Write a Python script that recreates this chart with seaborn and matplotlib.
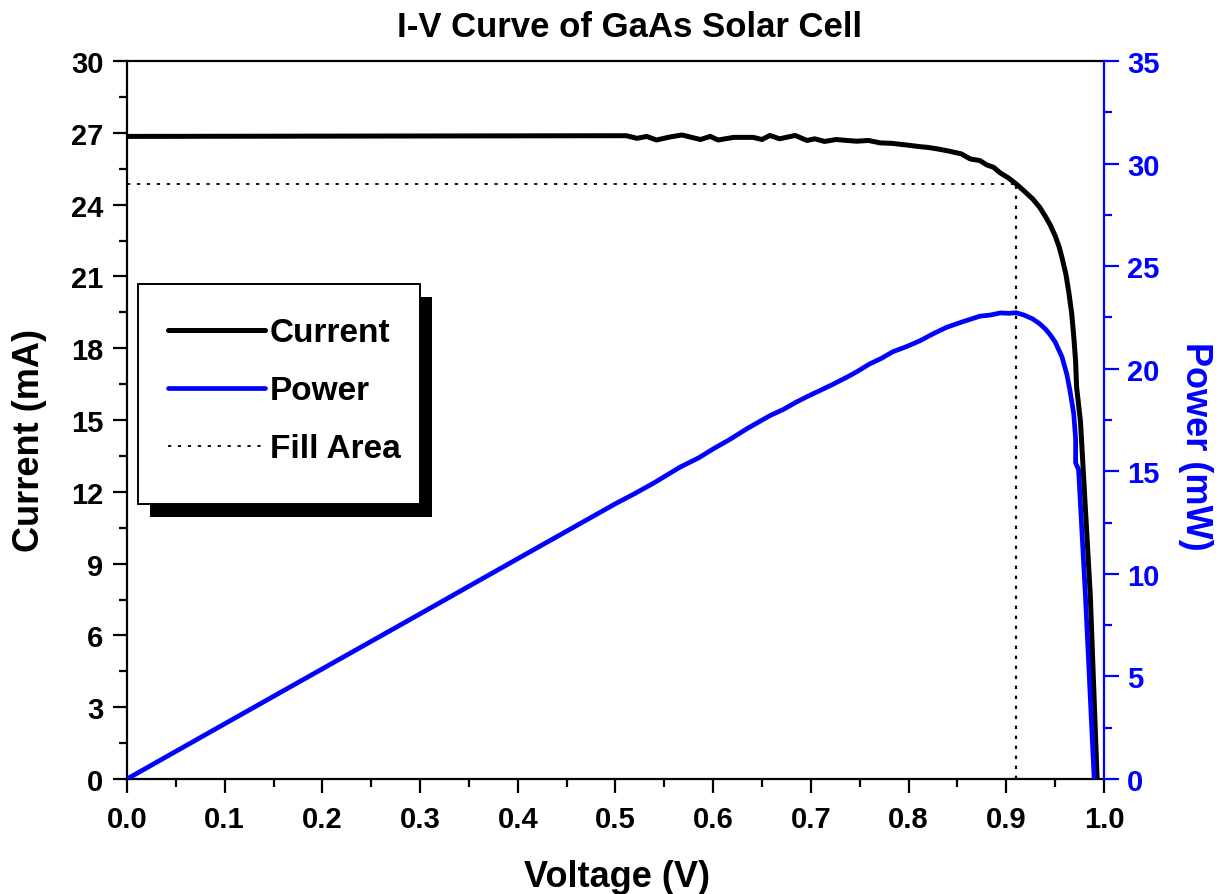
import pandas as pd
import matplotlib
matplotlib.use("Agg")
import matplotlib.pyplot as plt
from matplotlib.patches import Rectangle
from matplotlib.ticker import MultipleLocator, FormatStrFormatter
import seaborn as sns

# I-V data
voltage_i = [0.0, 0.511, 0.522, 0.532, 0.542, 0.555, 0.568, 0.587, 0.597, 0.605,
             0.621, 0.641, 0.650, 0.658, 0.668, 0.684, 0.696, 0.704, 0.714, 0.726,
             0.737, 0.747, 0.759, 0.771, 0.783, 0.798, 0.812, 0.820, 0.832, 0.842,
             0.854, 0.863, 0.873, 0.880, 0.887, 0.894, 0.902, 0.910, 0.918, 0.927,
             0.934, 0.940, 0.945, 0.950, 0.954, 0.957, 0.961, 0.964, 0.967, 0.969,
             0.971, 0.972, 0.976, 0.981, 0.986, 0.993]
current = [26.85, 26.88, 26.77, 26.85, 26.70, 26.82, 26.91, 26.72, 26.85, 26.70,
           26.81, 26.81, 26.72, 26.89, 26.75, 26.89, 26.68, 26.75, 26.64, 26.72,
           26.68, 26.65, 26.68, 26.58, 26.56, 26.49, 26.42, 26.39, 26.31, 26.23,
           26.12, 25.91, 25.84, 25.66, 25.56, 25.32, 25.12, 24.87, 24.58, 24.24,
           23.90, 23.51, 23.15, 22.70, 22.25, 21.79, 21.10, 20.35, 19.44, 18.54,
           17.45, 16.38, 14.92, 11.30, 7.69, 0.0]

voltage_p = [0.0, 0.1, 0.2, 0.3, 0.4, 0.5, 0.52, 0.54, 0.566, 0.585, 0.600,
             0.617, 0.634, 0.658, 0.672, 0.685, 0.697, 0.709, 0.723, 0.737, 0.748,
             0.760, 0.772, 0.784, 0.798, 0.812, 0.825, 0.839, 0.856, 0.873, 0.884,
             0.894, 0.903, 0.910, 0.918, 0.927, 0.934, 0.940, 0.945, 0.950, 0.957,
             0.962, 0.965, 0.969, 0.971, 0.971, 0.974, 0.981, 0.990]
power = [0.0, 2.69, 5.37, 8.05, 10.74, 13.42, 13.92, 14.45, 15.20, 15.65, 16.09,
         16.55, 17.06, 17.71, 18.02, 18.37, 18.66, 18.93, 19.25, 19.59, 19.88,
         20.23, 20.50, 20.83, 21.08, 21.37, 21.70, 22.02, 22.30, 22.56, 22.62,
         22.72, 22.70, 22.73, 22.62, 22.43, 22.20, 21.94, 21.65, 21.31, 20.58,
         19.73, 18.99, 17.83, 16.58, 15.41, 15.09, 8.97, 0.0]

# maximum power point (fill area corner)
v_mp = 0.91
i_mp = 24.85

BLUE = "#0000ff"

sns.set_style("ticks")
plt.rcParams["font.family"] = ["Liberation Sans", "DejaVu Sans"]
plt.rcParams["font.weight"] = "bold"
plt.rcParams["text.color"] = "black"
plt.rcParams["axes.labelcolor"] = "black"
plt.rcParams["xtick.color"] = "black"
plt.rcParams["ytick.color"] = "black"

iv_df = pd.DataFrame({"Voltage": voltage_i, "Current": current})
pw_df = pd.DataFrame({"Voltage": voltage_p, "Power": power})

fig = plt.figure(figsize=(12.22, 8.95), dpi=100)
ax = fig.add_axes([0.1039, 0.1285, 0.7995, 0.8022])
ax2 = ax.twinx()

sns.lineplot(data=iv_df, x="Voltage", y="Current", ax=ax, color="black",
             linewidth=3.6, sort=False, estimator=None, label="Current", legend=False)
sns.lineplot(data=pw_df, x="Voltage", y="Power", ax=ax2, color=BLUE,
             linewidth=3.4, sort=False, estimator=None, label="Power", legend=False)

# fill area guide lines
ax.plot([0, v_mp], [i_mp, i_mp], color="black", linewidth=1.3,
        linestyle=(0, (1.8, 3.7)), label="Fill Area")
ax.plot([v_mp, v_mp], [0, i_mp], color="black", linewidth=1.6,
        linestyle=(0, (1.5, 3.0)))

ax.set_xlim(0, 1.0)
ax.set_ylim(0, 30)
ax2.set_ylim(0, 35)

ax.xaxis.set_major_locator(MultipleLocator(0.1))
ax.xaxis.set_minor_locator(MultipleLocator(0.05))
ax.yaxis.set_major_locator(MultipleLocator(3))
ax.yaxis.set_minor_locator(MultipleLocator(1.5))
ax2.yaxis.set_major_locator(MultipleLocator(5))
ax2.yaxis.set_minor_locator(MultipleLocator(2.5))
ax.xaxis.set_major_formatter(FormatStrFormatter("%.1f"))

for spine in ax.spines.values():
    spine.set_linewidth(1.6)
    spine.set_color("black")
for name, spine in ax2.spines.items():
    spine.set_linewidth(1.6)
    spine.set_visible(name == "right")
ax2.spines["right"].set_color(BLUE)
ax.spines["right"].set_visible(False)

ax.tick_params(axis="x", which="major", direction="out", length=10, width=1.6,
               labelsize=21, pad=9, color="black", labelcolor="black")
ax.tick_params(axis="y", which="major", direction="out", length=10, width=1.6,
               labelsize=21, pad=7, color="black", labelcolor="black")
ax.tick_params(axis="both", which="minor", direction="out", length=5.5, width=1.6)
ax2.tick_params(axis="y", which="major", direction="out", length=10.5, width=1.6,
                labelsize=21, pad=6, color=BLUE, labelcolor=BLUE)
ax2.tick_params(axis="y", which="minor", direction="out", length=5.5, width=1.6,
                color=BLUE)
for lab in ax.get_xticklabels() + ax.get_yticklabels() + ax2.get_yticklabels():
    lab.set_fontweight("bold")

ax.set_xlabel("Voltage (V)", fontsize=26, fontweight="bold")
ax.set_ylabel("Current (mA)", fontsize=26, fontweight="bold")
ax2.set_ylabel("Power (mW)", fontsize=26, fontweight="bold", color=BLUE,
               rotation=-90, va="bottom")
ax.xaxis.set_label_coords(0.5015, -0.112)
ax.yaxis.set_label_coords(-0.082, 0.4735)
ax2.yaxis.set_label_coords(1.076, 0.465)

fig.text(0.5155, 0.969, "I-V Curve of GaAs Solar Cell", ha="center", va="center",
         fontsize=25, fontweight="bold")

# legend box with a solid black drop shadow
box_x0, box_x1 = 0.0113, 0.2999
box_y0, box_y1 = 0.383, 0.6894
shadow_dx, shadow_dy = 12 / 977, 13 / 718
ax2.add_patch(Rectangle((box_x0 + shadow_dx, box_y0 - shadow_dy), box_x1 - box_x0,
                        box_y1 - box_y0, transform=ax2.transAxes, facecolor="black",
                        edgecolor="none", zorder=9, clip_on=False))
ax2.add_patch(Rectangle((box_x0, box_y0), box_x1 - box_x0, box_y1 - box_y0,
                        transform=ax2.transAxes, facecolor="white", edgecolor="black",
                        linewidth=1.4, zorder=9.5, clip_on=False))

handles = ax.get_lines()[:1] + ax2.get_lines()[:1] + [ax.get_lines()[1]]
labels = ["Current", "Power", "Fill Area"]
leg = ax2.legend(handles, labels, loc="upper left", bbox_to_anchor=(0.0113, 0.685),
                 borderaxespad=0, frameon=False, handlelength=2.9, handletextpad=0.15,
                 labelspacing=0.81, borderpad=0.9, prop={"weight": "bold", "size": 24})
leg.set_zorder(10)

fig.savefig("out.png", dpi=100)
